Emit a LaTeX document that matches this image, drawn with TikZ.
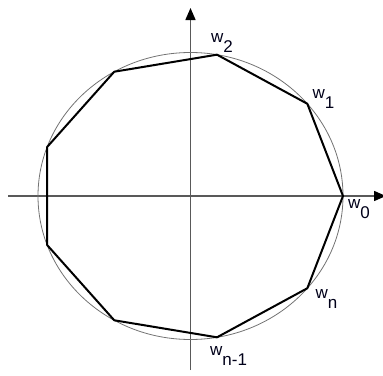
\documentclass[tikz,border=0pt]{standalone}
\usepackage{fontspec}
\newfontfamily\labfont{Liberation Sans}
\usetikzlibrary{arrows.meta,calc}
\newcommand{\wsub}[1]{w\raisebox{-10pt}{#1}}

\begin{document}
\begin{tikzpicture}[x=1pt, y=-1pt,
  ax/.style={draw=black!65, line width=1.5pt, -{Triangle[length=12pt,width=10pt,fill=black,color=black]}},
  ring/.style={draw=black!55, line width=0.8pt},
  side/.style={draw=black, line width=2pt, line join=round},
  lab/.style={font=\labfont\fontsize{17}{17}\selectfont, inner sep=0pt, anchor=base west, text=black!90!blue}]
\useasboundingbox (0,0) rectangle (383,375);
\def\rx{152.5}
\def\ry{143.5}
\coordinate (o) at (190.5,196);
\coordinate (xl) at (8,196);
\coordinate (xr) at (386,196);
\coordinate (yb) at (190.5,370);
\coordinate (yt) at (190.5,8);
% axes
\draw[ax] (xl) -- (xr);
\draw[ax] (yb) -- (yt);
% circle and the nine roots
\draw[ring] (o) ellipse [x radius=\rx, y radius=\ry];
\foreach \i in {0,...,8} \coordinate (v\i) at ($(o)+({\rx*cos(40*\i)},{-\ry*sin(40*\i)})$);
\draw[side] (v0) \foreach \i in {1,...,8}{-- (v\i)} -- cycle;
% labels
\node[lab] (l0) at ($(v0)+(5,12)$) {\wsub{0}};
\node[lab] (l1) at ($(v1)+(5,-5)$) {\wsub{1}};
\node[lab] (l2) at ($(v2)+(-6,-12)$) {\wsub{2}};
\node[lab] (ln) at ($(v8)+(8,10)$) {\wsub{n}};
\node[lab] (lm) at ($(v7)+(-7,18)$) {\wsub{n-1}};
\end{tikzpicture}
\end{document}
